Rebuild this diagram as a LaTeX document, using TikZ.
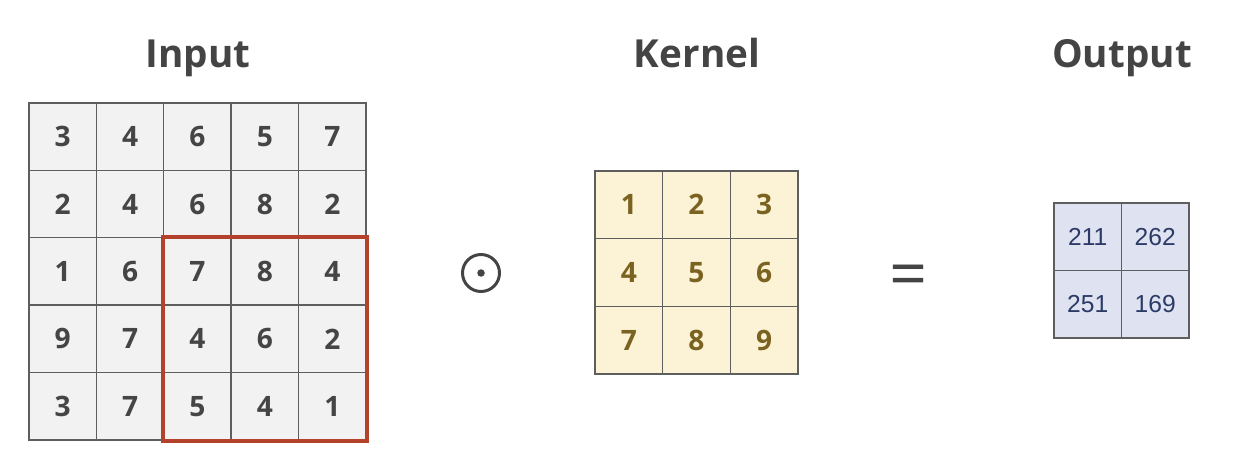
\documentclass[tikz,border=0pt]{standalone}
\usepackage{fontspec}
\setmainfont{Open Sans}
\newfontfamily\outfont{Liberation Sans}
\usetikzlibrary{positioning,fit}
\definecolor{gridgray}{HTML}{5E5E5E}
\definecolor{ingray}{HTML}{F2F2F2}
\definecolor{intext}{HTML}{454545}
\definecolor{kfill}{HTML}{FCF2D6}
\definecolor{ktext}{HTML}{7A6220}
\definecolor{ofill}{HTML}{DFE3F1}
\definecolor{otext}{HTML}{2C3A66}
\definecolor{windowred}{HTML}{B3412B}
\definecolor{symgray}{HTML}{444444}
\tikzset{cell/.style={rectangle,draw=gridgray,line width=0.8pt,minimum size=1.35cm,inner sep=0pt}}

\begin{document}
\begin{tikzpicture}[x=0.02cm,y=-0.02cm,
                    in node/.style={cell,fill=ingray,text=intext,font=\bfseries\fontsize{16}{16}\selectfont},
                    kernel node/.style={cell,fill=kfill,text=ktext,font=\bfseries\fontsize{16}{16}\selectfont},
                    out node/.style={cell,fill=ofill,text=otext,font=\outfont\fontsize{14}{14}\selectfont},
                    title/.style={anchor=base,font=\bfseries\fontsize{22}{22}\selectfont,text=symgray}]
\useasboundingbox (0,0) rectangle (1236,462);

% input 5x5
\foreach \v [count=\i from 0] in {3,4,6,5,7,2,4,6,8,2,1,6,7,8,4,9,7,4,6,2,3,7,5,4,1}
   {\pgfmathtruncatemacro{\x}{mod(\i,5)}
    \pgfmathtruncatemacro{\y}{div(\i,5)}
    \node [in node] (in\x\y) at (29+67.4*\x+33.7,103+67.4*\y+33.7) {\v};}

% kernel 3x3
\foreach \v [count=\i from 0] in {1,...,9}
   {\pgfmathtruncatemacro{\x}{mod(\i,3)}
    \pgfmathtruncatemacro{\y}{div(\i,3)}
    \node [kernel node] (k\x\y) at (595+67.7*\x+33.8,171+67.7*\y+33.8) {\v};}

% output 2x2
\foreach \v [count=\i from 0] in {211,262,251,169}
   {\pgfmathtruncatemacro{\x}{mod(\i,2)}
    \pgfmathtruncatemacro{\y}{div(\i,2)}
    \node [out node] (out\x\y) at (1054+67.5*\x+33.7,203+67.5*\y+33.7) {\v};}

\node (Window) [draw=windowred,line width=2.3pt,inner sep=0pt,fit=(in22) (in44)] {};

\node[title] (InputLabel) at (198,68) {Input};
\node[title] (KernelLabel) at (697,68) {Kernel};
\node[title] (OutputLabel) at (1122,68) {Output};

\node[circle,draw=symgray,line width=1.7pt,minimum size=0.74cm,inner sep=0pt] (Dot) at (481,273) {};
\fill[symgray] (Dot.center) circle (0.075cm);

\node[text=symgray,font=\fontsize{38}{38}\selectfont] (Equals) at (909,281) {=};

\end{tikzpicture}
\end{document}
